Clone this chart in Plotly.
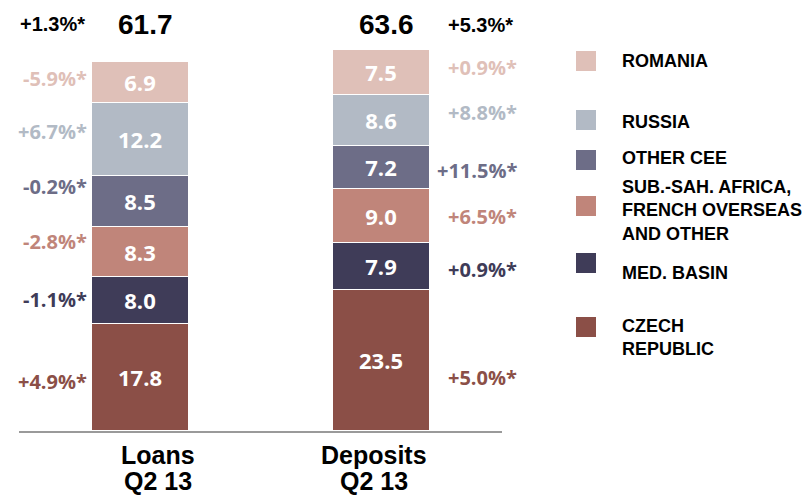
import plotly.graph_objects as go

# data (EUR bn, Q2 13) -- bottom to top of the stack
regions = ["CZECH<br>REPUBLIC", "MED. BASIN", "SUB.-SAH. AFRICA,<br>FRENCH OVERSEAS<br>AND OTHER",
           "OTHER CEE", "RUSSIA", "ROMANIA"]
colors = ["#8B4F47", "#3F3C58", "#C0857A", "#6D6D87", "#B2BAC5", "#DFC0B8"]
cat_names = ["Loans", "Deposits"]
cat_period = ["Q2 13", "Q2 13"]
loans = [17.8, 8.0, 8.3, 8.5, 12.2, 6.9]
deposits = [23.5, 7.9, 9.0, 7.2, 8.6, 7.5]
loans_chg = ["+4.9%*", "-1.1%*", "-2.8%*", "-0.2%*", "+6.7%*", "-5.9%*"]
deposits_chg = ["+5.0%*", "+0.9%*", "+6.5%*", "+11.5%*", "+8.8%*", "+0.9%*"]
totals = [61.7, 63.6]
totals_chg = ["+1.3%*", "+5.3%*"]

# layout helpers (pixel -> paper)
L, R, T, B = 19, 306, 12, 64
W, H = 808, 495
pw, ph = W - L - R, H - T - B
def px2x(px):
    return (px - L) / pw
def py2y(py):
    return (H - B - py) / ph

BAR_W = 0.404
# small vertical nudges (px) for the side labels
loans_nudge = [-4, 1, 10, 15, 8, 4]
deposits_nudge = [-17, -3, 0, -3, 8, 5]
cat_xshift = [17, -7]

fig = go.Figure()
for i, name in enumerate(regions):
    fig.add_trace(go.Bar(
        x=[0, 1], y=[loans[i], deposits[i]], name=name,
        marker=dict(color=colors[i], line=dict(color="white", width=1)),
        width=BAR_W,
        text=[f"{loans[i]:.1f}", f"{deposits[i]:.1f}"],
        textposition="inside", insidetextanchor="middle", textangle=0,
        textfont=dict(family="Open Sans", size=22, color="white", weight="bold"),
        showlegend=False,
    ))

# side growth labels
cum_l, cum_d = 0, 0
for i in range(len(regions)):
    fig.add_annotation(x=-BAR_W / 2, y=cum_l + loans[i] / 2, text=loans_chg[i],
                       xanchor="right", yanchor="middle", xshift=-3, yshift=loans_nudge[i], showarrow=False,
                       font=dict(family="Open Sans", size=20, color=colors[i], weight="bold"))
    fig.add_annotation(x=1 + BAR_W / 2, y=cum_d + deposits[i] / 2, text=deposits_chg[i],
                       xanchor="right", yanchor="middle", xshift=89, yshift=deposits_nudge[i], showarrow=False,
                       font=dict(family="Open Sans", size=20, color=colors[i], weight="bold"))
    cum_l += loans[i]
    cum_d += deposits[i]

# totals
for j in range(2):
    fig.add_annotation(x=j, y=py2y(25), yref="paper", yanchor="middle", text=f"{totals[j]:.1f}",
                       showarrow=False, xshift=5,
                       font=dict(family="Liberation Sans", size=28, color="black", weight="bold"))
fig.add_annotation(x=-BAR_W / 2, y=py2y(24), yref="paper", yanchor="middle", text=totals_chg[0],
                   xanchor="right", xshift=-5, showarrow=False,
                   font=dict(family="Liberation Sans", size=20, color="black", weight="bold"))
fig.add_annotation(x=1 + BAR_W / 2, y=py2y(25), yref="paper", yanchor="middle", text=totals_chg[1],
                   xanchor="right", xshift=85, showarrow=False,
                   font=dict(family="Liberation Sans", size=20, color="black", weight="bold"))

# category labels under the axis (two lines, tighter than tick labels allow)
for j in range(2):
    for line_text, py in ((cat_names[j], 455), (cat_period[j], 481)):
        fig.add_annotation(x=j, y=py2y(py), yref="paper", yanchor="middle", text=line_text,
                           xshift=cat_xshift[j], showarrow=False,
                           font=dict(family="Liberation Sans", size=25, color="black", weight="bold"))

# custom legend (top to bottom)
sq_y = [327, 263, 206, 160, 120, 61]
txt_y = [337, 273, 210, 158, 122, 61]
for i, name in enumerate(regions):
    fig.add_shape(type="rect", xref="paper", yref="paper",
                  x0=px2x(576), x1=px2x(596), y0=py2y(sq_y[i] + 10), y1=py2y(sq_y[i] - 10),
                  fillcolor=colors[i], line=dict(width=0))
    fig.add_annotation(xref="paper", yref="paper", x=px2x(620), y=py2y(txt_y[i]), text=name,
                       xanchor="left", yanchor="middle", align="left", showarrow=False,
                       font=dict(family="Liberation Sans", size=18, color="black", weight="bold"))

fig.update_layout(
    barmode="stack",
    width=W, height=H,
    margin=dict(l=L, r=R, t=T, b=B, autoexpand=False),
    plot_bgcolor="white", paper_bgcolor="white",
    bargap=0,
)
fig.update_xaxes(range=[-0.508, 1.504], showticklabels=False, automargin=False,
                 showline=True, linecolor="#9A9A9A", linewidth=2, showgrid=False, zeroline=False, ticks="")
fig.update_yaxes(range=[0, 70], visible=False, showgrid=False, zeroline=False, automargin=False)

# the page body has an 8px default margin; drop it so the figure fills the window
fig.write_html("out.html", config={"displayModeBar": False},
               post_script="document.body.style.margin='0';")
